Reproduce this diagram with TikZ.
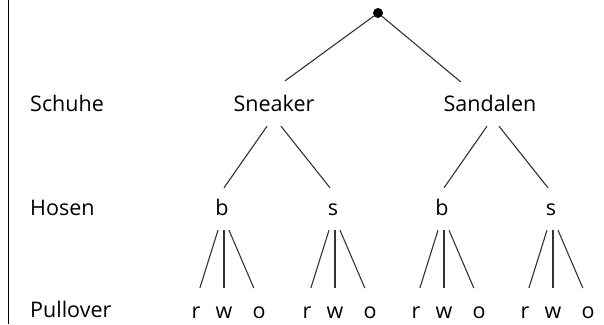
\documentclass[tikz,border=0pt]{standalone}
\usepackage{fontspec}
\setmainfont{Open Sans}
\usetikzlibrary{positioning}

\begin{document}
\begin{tikzpicture}[x=1pt,y=-1pt,
    every node/.style={font=\fontsize{21.5}{26}\selectfont},
    item/.style={anchor=base,inner xsep=0pt,inner ysep=11pt,text height=16pt,text depth=4pt},
    rowname/.style={anchor=base west,inner sep=0pt},
    branch/.style={draw=black!80,line width=1.1pt},
    leaf/.style={shorten >=3pt}]

\useasboundingbox (0,0) rectangle (604,324);
\draw[line width=1.5pt] (8.5,0) -- (8.5,324);

\node[circle,fill,inner sep=0pt,minimum size=10pt] (root) at (378,13) {};

% Schuhe
\node[rowname] (schuhe)   at (30,111)  {Schuhe};
\node[item]    (sneaker)  at (274,111) {Sneaker};
\node[item]    (sandalen) at (490,111) {Sandalen};

% Hosen, Pullover
\node[rowname] (hosen)    at (30,215) {Hosen};
\node[rowname] (pullover) at (30,317) {Pullover};

\foreach \p/\x [count=\i] in {b/224,s/335,b/444,s/553}{
  \node[item] (h\i) at (\x-2,215) {\p};
  \node[item] (r\i) at (\x-28,318) {r};
  \node[item] (w\i) at (\x,318)    {w};
  \node[item] (o\i) at (\x+35,318) {o};
  \path[branch,leaf]
  ([xshift=-4pt]h\i.south) edge ([xshift=3pt]r\i.north)
  (w\i.north |- h\i.south)  edge (w\i.north)
  ([xshift=7pt]h\i.south)  edge ([xshift=-4pt]o\i.north);
}

\path[branch]
(root) edge[shorten >=5pt] ([xshift=7pt]sneaker.north)
(root) edge[shorten >=3pt] ([xshift=-27pt]sandalen.north)
([xshift=-7pt]sneaker.south) edge ([xshift=2pt]h1.north)
([xshift=7pt]sneaker.south)  edge ([xshift=-3pt]h2.north)
([xshift=-3pt]sandalen.south) edge ([xshift=2pt]h3.north)
([xshift=9pt]sandalen.south)  edge ([xshift=-3pt]h4.north)
;
\end{tikzpicture}
\end{document}
